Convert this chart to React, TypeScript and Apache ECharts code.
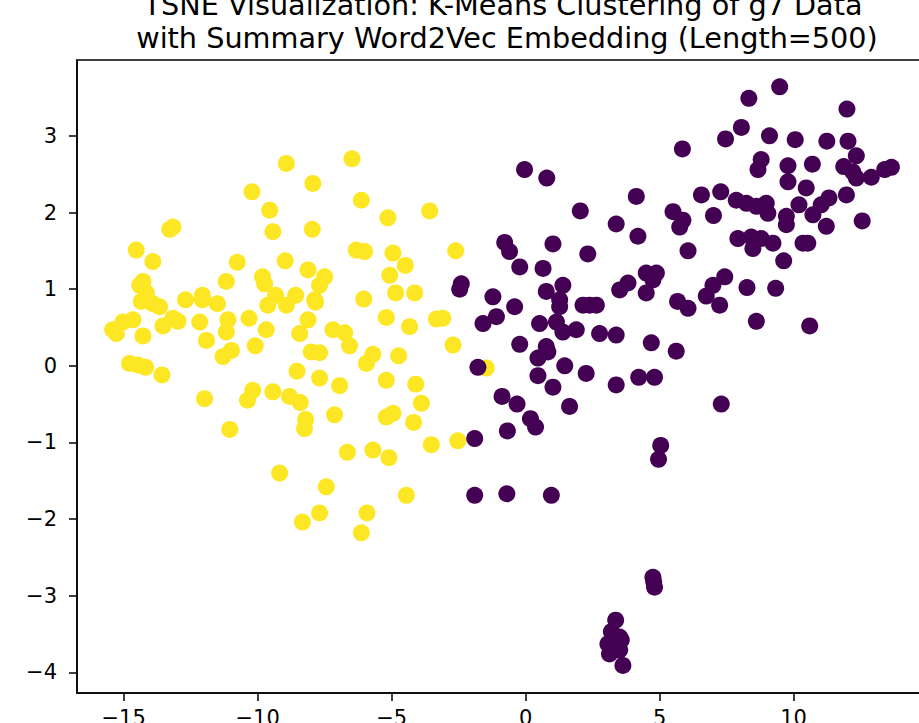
import React, { useEffect, useRef } from "react";
import * as echarts from "echarts";

const titleLine1 = "TSNE Visualization: K-Means Clustering of g7 Data";
const titleLine2 = "with Summary Word2Vec Embedding (Length=500)";

const xTicks = [-15, -10, -5, 0, 5, 10, 15];
const yTicks = [-4, -3, -2, -1, 0, 1, 2, 3];
const xRange = [-16.74, 14.94];
const yRange = [-4.27, 3.99];

// cluster 1 (yellow)
const cluster1: [number, number][] = [
  [-8.93, 2.64], [-6.48, 2.70], [-7.94, 2.38], [-10.21, 2.27], [-6.13, 2.16],
  [-9.55, 2.03], [-5.14, 1.93], [-3.58, 2.02], [-9.43, 1.75], [-7.96, 1.78],
  [-13.16, 1.81], [-13.28, 1.78], [-14.53, 1.51], [-13.91, 1.36], [-10.76, 1.35],
  [-8.97, 1.37], [-8.12, 1.25], [-11.17, 1.10], [-9.82, 1.16], [-9.74, 1.07],
  [-14.28, 1.10], [-14.40, 1.05], [-14.34, 0.84], [-13.91, 0.81], [-13.66, 0.77],
  [-14.15, 0.95], [-12.69, 0.86], [-12.06, 0.92], [-12.06, 0.86], [-11.50, 0.81],
  [-9.33, 0.92], [-9.62, 0.79], [-8.58, 0.92], [-8.93, 0.79], [-7.87, 0.86],
  [-15.03, 0.57], [-14.65, 0.60], [-13.16, 0.62], [-12.97, 0.58], [-13.53, 0.52],
  [-12.16, 0.57], [-11.11, 0.60], [-10.32, 0.62], [-9.68, 0.47], [-8.12, 0.60],
  [-15.41, 0.47], [-15.27, 0.42], [-14.28, 0.39], [-11.91, 0.33], [-11.17, 0.44],
  [-8.43, 0.42], [-10.09, 0.26], [-11.29, 0.12], [-10.98, 0.20], [-8.00, 0.18],
  [-7.69, 0.17], [-14.78, 0.03], [-14.47, 0.01], [-14.18, -0.02], [-13.57, -0.12],
  [-8.53, -0.07], [-7.69, -0.16], [-11.98, -0.43], [-10.18, -0.32], [-10.38, -0.45],
  [-9.43, -0.34], [-8.81, -0.40], [-8.41, -0.48], [-8.21, -0.70], [-8.25, -0.82],
  [-11.04, -0.83], [-9.18, -1.40], [-8.33, -2.04], [-7.69, -1.92], [-7.44, -1.58],
  [-6.32, 1.51], [-6.01, 1.49], [-4.95, 1.47], [-2.61, 1.50], [-7.50, 1.16],
  [-7.69, 1.05], [-4.49, 1.31], [-5.07, 1.18], [-7.84, 0.83], [-6.04, 0.87],
  [-4.85, 0.95], [-4.14, 0.95], [-5.20, 0.63], [-4.33, 0.51], [-3.33, 0.61],
  [-3.09, 0.62], [-7.19, 0.47], [-6.75, 0.43], [-6.57, 0.26], [-2.71, 0.27],
  [-5.94, 0.03], [-5.70, 0.15], [-4.74, 0.13], [-6.94, -0.26], [-5.20, -0.19],
  [-4.10, -0.24], [-1.47, -0.03], [-3.89, -0.49], [-7.13, -0.64], [-5.20, -0.67],
  [-4.95, -0.62], [-4.18, -0.74], [-6.65, -1.13], [-5.70, -1.10], [-5.10, -1.20],
  [-3.52, -1.03], [-2.53, -0.98], [-4.45, -1.69], [-5.92, -1.92], [-6.13, -2.18],
];

// cluster 0 (purple)
const cluster0: [number, number][] = [
  [-0.04, 2.56], [0.79, 2.45], [4.13, 2.21], [2.04, 2.02], [3.38, 1.85],
  [4.19, 1.69], [5.50, 2.01], [5.87, 1.90], [5.75, 1.81], [5.85, 2.83],
  [-0.78, 1.61], [-0.60, 1.49], [1.02, 1.59], [2.32, 1.46], [-0.22, 1.29],
  [0.65, 1.27], [-2.40, 1.07], [-2.46, 1.00], [1.39, 1.05], [0.77, 0.97],
  [1.27, 0.86], [1.27, 0.77], [-1.22, 0.90], [-0.41, 0.77], [2.14, 0.79],
  [2.39, 0.79], [2.64, 0.79], [3.51, 0.99], [3.82, 1.08], [4.50, 1.21],
  [4.88, 1.21], [4.75, 1.12], [4.50, 0.95], [5.67, 0.84], [-1.09, 0.64],
  [-1.59, 0.55], [0.52, 0.55], [1.15, 0.57], [1.39, 0.44], [1.89, 0.47],
  [2.76, 0.42], [3.38, 0.40], [-0.22, 0.28], [0.77, 0.25], [4.69, 0.30],
  [5.62, 0.19], [0.83, 0.18], [0.46, 0.10], [1.46, 0.00], [2.26, -0.10],
  [0.46, -0.13], [1.02, -0.28], [3.38, -0.25], [4.22, -0.15], [4.81, -0.15],
  [-1.78, -0.02], [-0.88, -0.40], [-0.32, -0.50], [1.64, -0.53], [0.18, -0.69],
  [0.37, -0.80], [-0.68, -0.85], [-1.90, -0.95], [5.04, -1.04], [4.96, -1.22],
  [-1.90, -1.69], [-0.70, -1.67], [0.96, -1.69], [4.75, -2.76], [4.78, -2.82],
  [4.81, -2.89], [3.36, -3.32], [3.20, -3.47], [3.51, -3.54], [3.07, -3.63],
  [3.57, -3.58], [3.13, -3.76], [3.51, -3.71], [3.63, -3.91],
  [9.48, 3.64], [8.33, 3.49], [11.99, 3.35], [8.05, 3.11], [7.46, 2.96],
  [9.10, 3.00], [10.06, 2.95], [11.24, 2.93], [12.03, 2.93], [12.34, 2.74],
  [8.79, 2.69], [8.67, 2.56], [9.79, 2.61], [10.70, 2.63], [11.87, 2.60],
  [12.21, 2.53], [12.34, 2.45], [12.90, 2.46], [13.40, 2.56], [13.65, 2.59],
  [9.79, 2.40], [10.47, 2.32], [11.97, 2.23], [6.56, 2.23], [7.28, 2.27],
  [7.86, 2.16], [8.24, 2.12], [8.61, 2.08], [8.98, 2.12], [9.04, 1.99],
  [10.20, 2.10], [10.72, 1.97], [11.03, 2.10], [11.32, 2.19], [9.73, 1.95],
  [9.73, 1.84], [11.22, 1.82], [12.56, 1.89], [7.01, 1.96], [7.92, 1.66],
  [8.42, 1.68], [8.48, 1.53], [8.79, 1.66], [9.23, 1.60], [10.35, 1.60],
  [10.53, 1.60], [6.06, 1.50], [9.63, 1.37], [6.74, 0.91], [6.99, 1.05],
  [7.43, 1.16], [7.24, 0.79], [6.06, 0.75], [8.26, 1.02], [9.33, 1.01],
  [8.61, 0.58], [10.60, 0.52], [7.30, -0.50],
];

const YELLOW = "#fde725";
const PURPLE = "#440154";
const FONT = "DejaVu Sans";

const fmt = (v: number) => String(v).replace("-", "\u2212");

export default function App() {
  const ref = useRef<HTMLDivElement>(null);
  useEffect(() => {
    if (!ref.current) return;
    const chart = echarts.init(ref.current, null, { renderer: "svg" });
    const axisCommon = {
      type: "value" as const,
      splitLine: { show: false },
      axisLine: { show: true, onZero: false, lineStyle: { color: "#000", width: 1.5 } },
      axisTick: { show: true, inside: false, length: 8, lineStyle: { color: "#000", width: 1.5 } },
    };
    chart.setOption({
      animation: false,
      backgroundColor: "#fff",
      grid: {
        left: 77,
        top: 60,
        right: -7,
        bottom: 30,
        show: true,
        borderColor: "#000",
        borderWidth: 1.5,
        containLabel: false,
        outerBoundsMode: "none",
      },
      graphic: [
        {
          type: "text",
          x: 503,
          y: 5,
          style: {
            text: titleLine1,
            font: `28.7px "${FONT}"`,
            fill: "#000",
            align: "center",
            verticalAlign: "middle",
          },
        },
        {
          type: "text",
          x: 507,
          y: 38,
          style: {
            text: titleLine2,
            font: `28.7px "${FONT}"`,
            fill: "#000",
            align: "center",
            verticalAlign: "middle",
          },
        },
      ],
      xAxis: {
        ...axisCommon,
        min: xRange[0],
        max: xRange[1],
        axisTick: { ...axisCommon.axisTick, customValues: xTicks },
        axisLabel: {
          customValues: xTicks,
          margin: 14,
          color: "#000",
          fontFamily: FONT,
          fontSize: 21,
          formatter: (v: number) => fmt(v),
        },
      },
      yAxis: {
        ...axisCommon,
        min: yRange[0],
        max: yRange[1],
        axisTick: { ...axisCommon.axisTick, customValues: yTicks },
        axisLabel: {
          customValues: yTicks,
          margin: 20,
          color: "#000",
          fontFamily: FONT,
          fontSize: 21,
          formatter: (v: number) => fmt(v),
        },
      },
      series: [
        {
          type: "scatter",
          data: cluster1,
          symbol: "circle",
          symbolSize: 17,
          itemStyle: { color: YELLOW, opacity: 1 },
          emphasis: { disabled: true },
        },
        {
          type: "scatter",
          data: cluster0,
          symbol: "circle",
          symbolSize: 17,
          itemStyle: { color: PURPLE, opacity: 1 },
          emphasis: { disabled: true },
        },
      ],
    });
    return () => chart.dispose();
  }, []);
  return (
    <div
      ref={ref}
      style={{ position: "fixed", left: 0, top: 0, width: 919, height: 723, overflow: "hidden" }}
    />
  );
}
